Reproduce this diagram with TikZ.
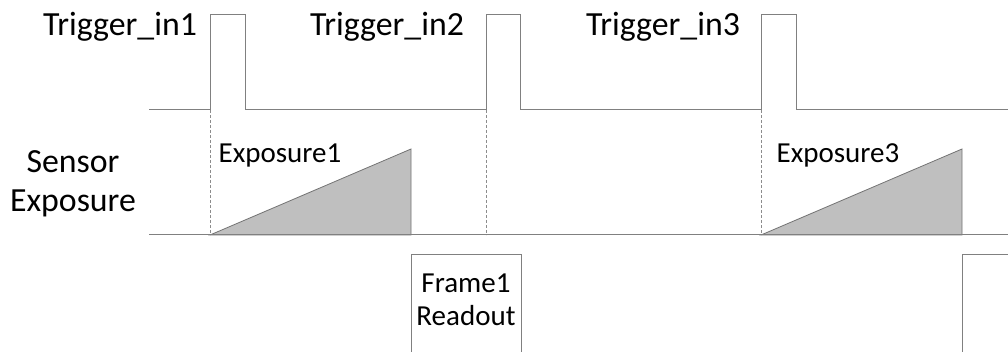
\documentclass[tikz,border=0pt]{standalone}
\usepackage{fontspec}
\setmainfont{Carlito}
\begin{document}
\begin{tikzpicture}[x=1pt,y=-1pt,
  sig/.style={draw=black!50, line width=1pt},
  guide/.style={draw=black!45, line width=0.7pt, dash pattern=on 3pt off 2pt},
  ramp/.style={draw=black!55, fill=black!25, line width=0.8pt},
  big/.style={font=\fontsize{33.8}{39}\selectfont, anchor=base, inner sep=0pt},
  small/.style={font=\fontsize{29}{33}\selectfont, anchor=base, inner sep=0pt}]
\useasboundingbox (0,0) rectangle (1008,352);
% coordinates
\coordinate (t0) at (149,110);
\coordinate (tend) at (1008,110);
\coordinate (e0) at (149,235);
\coordinate (eend) at (1008,235);
% trigger waveform
\draw[sig] (t0) -- (210,110) -- (210,14.5) -- (245,14.5) -- (245,110)
  -- (486,110) -- (486,14.5) -- (520,14.5) -- (520,110)
  -- (761,110) -- (761,14.5) -- (796,14.5) -- (796,110) -- (tend);
% dashed guides
\draw[guide] (210,110) -- (210,235);
\draw[guide] (486,110) -- (486,235);
\draw[guide] (761,110) -- (761,235);
% exposure ramps
\draw[ramp] (210,235) -- (411,149) -- (411,235) -- cycle;
\draw[ramp] (761,235) -- (962,149) -- (962,235) -- cycle;
% exposure baseline
\draw[sig] (e0) -- (eend);
% readout boxes
\draw[sig] (411,352) -- (411,255) -- (521,255) -- (521,352);
\draw[sig] (962,352) -- (962,255) -- (1008,255);
% labels
\node[big] (l1) at (120,36) {Trigger\_in1};
\node[big] (l2) at (387,36) {Trigger\_in2};
\node[big] (l3) at (663,36) {Trigger\_in3};
\node[big] (s1) at (73,173) {Sensor};
\node[big] (s2) at (73,212) {Exposure};
\node[small] (x1) at (280,163) {Exposure1};
\node[small] (x3) at (838,163) {Exposure3};
\node[small] (f1) at (466,292) {Frame1};
\node[small] (f2) at (466,325) {Readout};
\end{tikzpicture}
\end{document}
